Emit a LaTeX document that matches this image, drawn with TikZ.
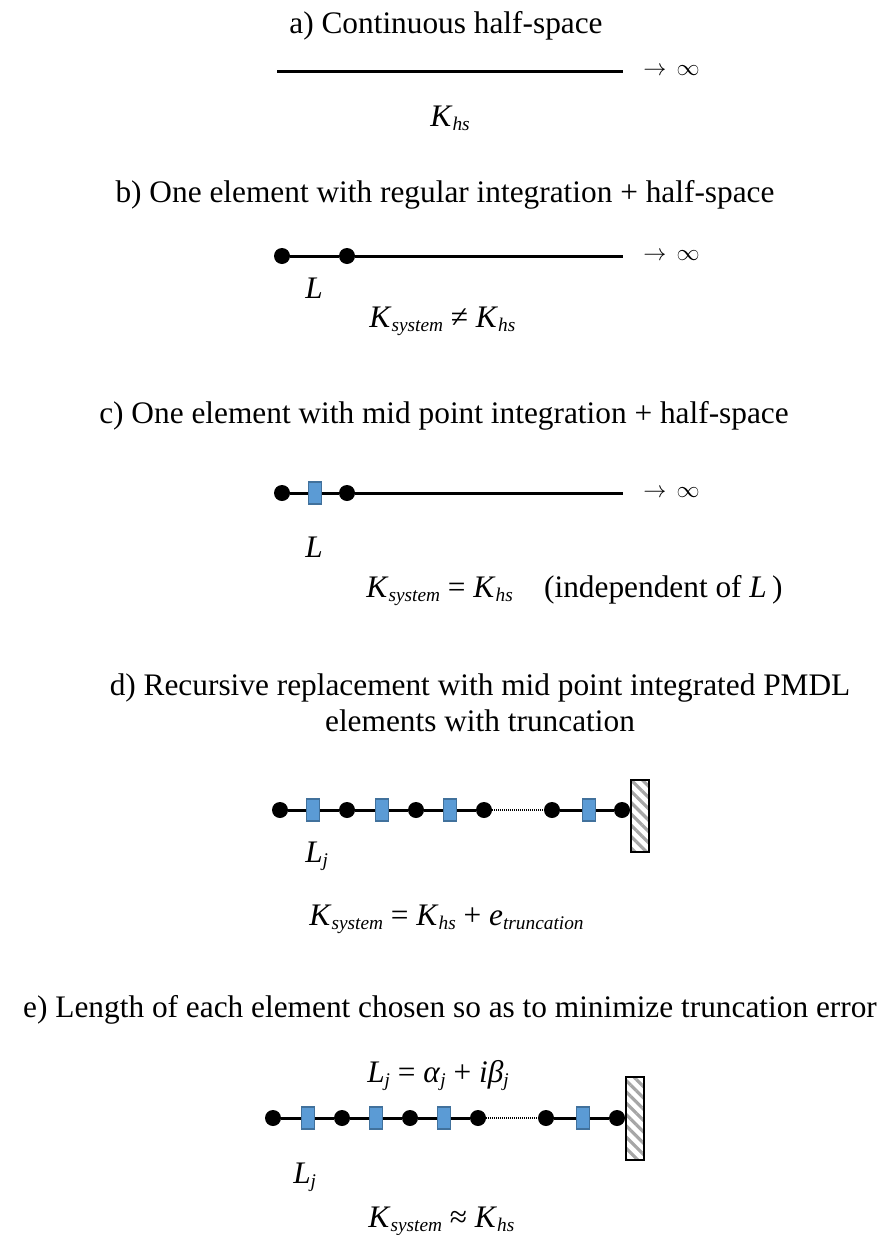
\documentclass[tikz,border=0pt]{standalone}
\usepackage{fontspec}
\setmainfont{Liberation Serif}
\usetikzlibrary{patterns.meta}

\definecolor{blockblue}{HTML}{5B9BD5}
\definecolor{blockedge}{HTML}{41719C}

\newcommand{\lowsub}[1]{\raisebox{-3pt}{\fontsize{14.5}{14.5}\selectfont\itshape #1}}
\newcommand{\Ksys}{\textit{K}\lowsub{system}}
\newcommand{\Khs}{\textit{K}\lowsub{hs}}

\begin{document}
\begin{tikzpicture}[x=0.75pt, y=-0.75pt,
  every node/.style={font=\fontsize{23.5}{27}\selectfont},
  headline/.style={anchor=base, inner sep=0},
  formula/.style={anchor=base west, inner sep=0},
  tolimit/.style={anchor=west, inner sep=0, font=\fontsize{18}{20}\selectfont},
  beam/.style={line width=2.25pt},
  gapline/.style={line width=1.8pt, dash pattern=on 0.75pt off 0.75pt},
  joint/.style={circle, fill=black, inner sep=0, minimum size=12pt},
  gauss/.style={rectangle, fill=blockblue, draw=blockedge, line width=0.9pt,
    inner sep=0, minimum width=9.75pt, minimum height=16.5pt},
  fixedwall/.style={rectangle, draw=black, line width=1.5pt, inner sep=0,
    minimum width=13.5pt, pattern={Lines[angle=-45, distance=6pt, line width=2.4pt]},
    pattern color=gray!70}]

  \useasboundingbox (0,0) rectangle (895,1235);

  % a) half-space alone
  \node[headline] (titleA) at (446,33) {a) Continuous half-space};
  \coordinate (a0) at (277,71);
  \coordinate (a1) at (623,71);
  \draw[beam] (a0) -- (a1);
  \node[tolimit] (infA) at (643,71) {$\rightarrow\,\infty$};
  \node[formula] (kA) at (430,126) {\Khs};

  % b) regular integration
  \node[headline] (titleB) at (445,202) {b) One element with regular integration + half-space};
  \node[joint] (b1) at (282,256) {};
  \node[joint] (b2) at (347,256) {};
  \coordinate (bEnd) at (623,256);
  \draw[beam] (b1) -- (b2) -- (bEnd);
  \node[tolimit] (infB) at (643,256) {$\rightarrow\,\infty$};
  \node[formula] (lenB) at (305,298) {\textit{L}};
  \node[formula] (kB) at (369,327) {\Ksys{} ≠ \Khs};

  % c) mid point integration
  \node[headline] (titleC) at (444,423) {c) One element with mid point integration + half-space};
  \node[joint] (c1) at (282,493) {};
  \node[gauss] (cs) at (315,493) {};
  \node[joint] (c2) at (347,493) {};
  \coordinate (cEnd) at (623,493);
  \draw[beam] (c1) -- (cs) -- (c2) -- (cEnd);
  \node[tolimit] (infC) at (643,493) {$\rightarrow\,\infty$};
  \node[formula] (lenC) at (305,557) {\textit{L}};
  \node[formula] (kC) at (366,597) {\Ksys{} = \Khs\quad(independent of \textit{L}\,)};

  % d) truncated PMDL chain
  \node[headline] (titleD) at (480,695) {d) Recursive replacement with mid point integrated PMDL};
  \node[headline] (titleDD) at (480,731) {elements with truncation};
  \foreach \x [count=\i] in {280,347,416,484,552,622}
    \node[joint] (d\i) at (\x,810) {};
  \foreach \x [count=\i] in {313,382,450,589}
    \node[gauss] (ds\i) at (\x,810) {};
  \draw[beam] (d1) -- (ds1) -- (d2) -- (ds2) -- (d3) -- (ds3) -- (d4);
  \draw[gapline] (d4) -- (d5);
  \draw[beam] (d5) -- (ds4) -- (d6);
  \node[fixedwall, minimum height=54pt] (wallD) at (640,816) {};
  \node[formula] (lenD) at (305,862) {\textit{L}\lowsub{j}};
  \node[formula] (kD) at (309,925) {\Ksys{} = \Khs{} + \textit{e}\lowsub{truncation}};

  % e) optimised element lengths
  \node[headline] (titleE) at (450,1017) {e) Length of each element chosen so as to minimize truncation error};
  \node[formula] (alphaE) at (367,1082) {\textit{L}\lowsub{j} = \textit{α}\lowsub{j} + \textit{iβ}\lowsub{j}};
  \foreach \x [count=\i] in {273,342,410,478,546,617}
    \node[joint] (e\i) at (\x,1118) {};
  \foreach \x [count=\i] in {308,376,444,583}
    \node[gauss] (es\i) at (\x,1118) {};
  \draw[beam] (e1) -- (es1) -- (e2) -- (es2) -- (e3) -- (es3) -- (e4);
  \draw[gapline] (e4) -- (e5);
  \draw[beam] (e5) -- (es4) -- (e6);
  \node[fixedwall, minimum height=62pt] (wallE) at (635,1118.5) {};
  \node[formula] (lenE) at (293,1183) {\textit{L}\lowsub{j}};
  \node[formula] (kE) at (368,1227) {\Ksys{} ≈ \Khs};

\end{tikzpicture}
\end{document}
